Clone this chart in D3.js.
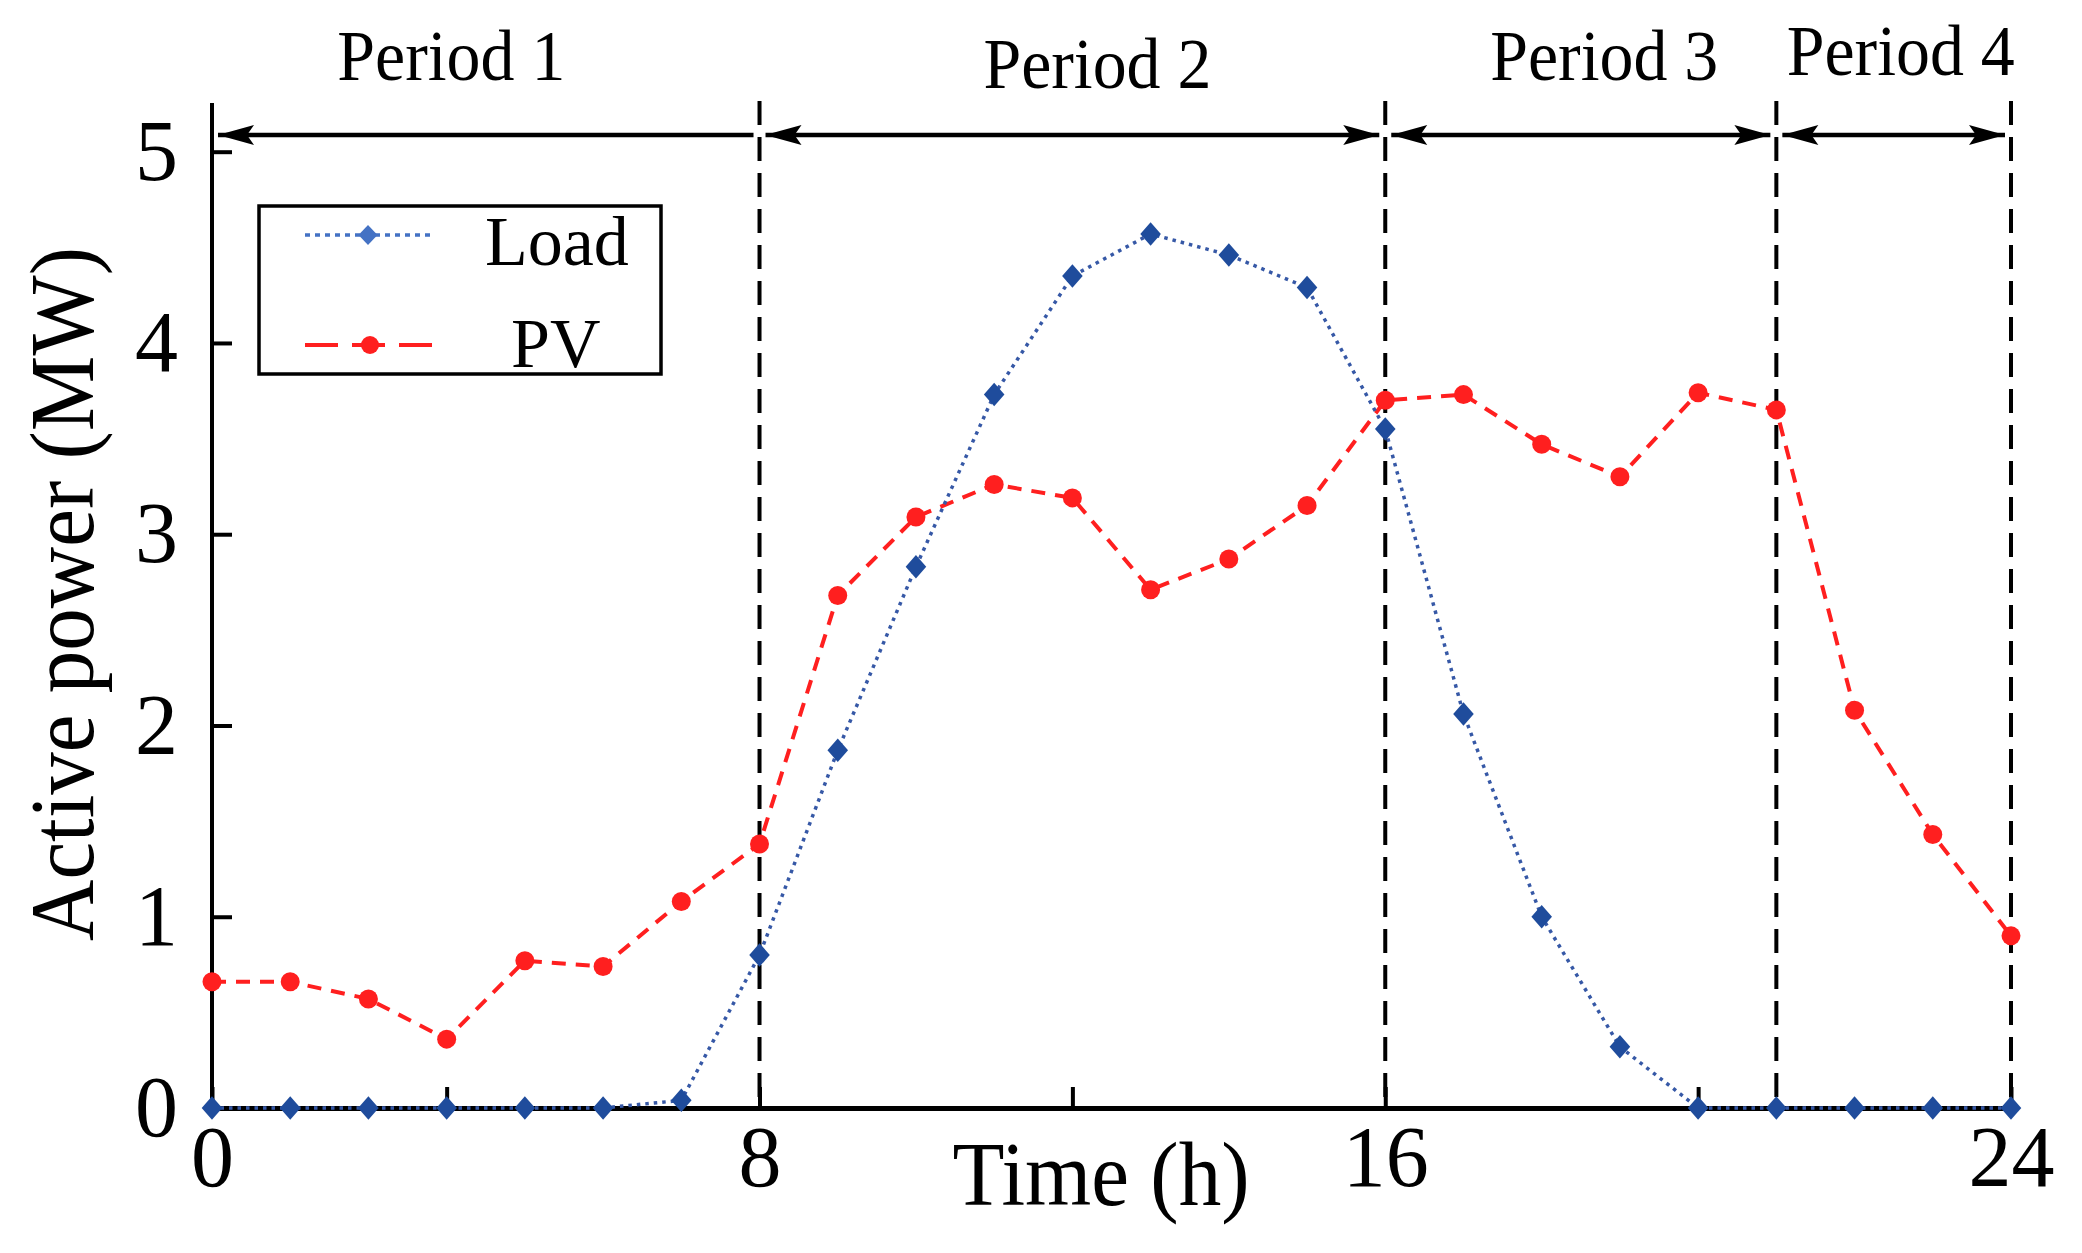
<!DOCTYPE html>
<html>
<head>
<meta charset="utf-8">
<script src="https://cdn.jsdelivr.net/npm/d3@7"></script>
<style>
  body { margin: 0; background: #fff; }
  text { font-family: "Liberation Serif", "Times New Roman", serif; fill: #000; }
</style>
</head>
<body>
<div id="chart"></div>
<script>
// hours 1..24 (the axis labels the first hour as "0")
const hours = d3.range(1, 25);
const loadMW = [0, 0, 0, 0, 0, 0, 0.04, 0.80, 1.87, 2.83, 3.73, 4.35,
  4.57, 4.46, 4.29, 3.55, 2.06, 1.00, 0.32, 0, 0, 0, 0, 0];
const pvMW = [0.66, 0.66, 0.57, 0.36, 0.77, 0.74, 1.08, 1.38, 2.68, 3.09, 3.26, 3.19,
  2.71, 2.87, 3.15, 3.70, 3.73, 3.47, 3.30, 3.74, 3.65, 2.08, 1.43, 0.90];

const xTickVals = [1, 4, 8, 12, 16, 20, 24];
const xTickLabels = ["0", "", "8", "", "16", "", "24"];
const yTickVals = [0, 1, 2, 3, 4, 5];

const periodNames = ["Period 1", "Period 2", "Period 3", "Period 4"];
const periodStart = [1, 8, 16, 21];
const periodEnd = [8, 16, 21, 24];
const seriesNames = ["Load", "PV"];

// layout (not data)
const W = 2082, H = 1253;
const periodLabelHour = [4.06, 12.32, 18.8, 22.59];
const periodLabelY = [80, 88, 80, 75];

const svg = d3.select("#chart").append("svg")
  .attr("width", W).attr("height", H);

const x = d3.scaleLinear().domain([1, 24]).range([212, 2011]);
const y = d3.scaleLinear().domain([0, 5]).range([1108, 151.7]);

const blueLine = "#3658a6", blueMark = "#1f4c9c", red = "#ff1f1f";

// arrow heads
const defs = svg.append("defs");
defs.append("marker").attr("id", "ahEnd")
  .attr("markerUnits", "userSpaceOnUse").attr("markerWidth", 38).attr("markerHeight", 24)
  .attr("refX", 36).attr("refY", 12).attr("orient", "auto")
  .append("path").attr("d", "M0,2 L36,12 L0,22 L7,12 Z").attr("fill", "#000");
defs.append("marker").attr("id", "ahStart")
  .attr("markerUnits", "userSpaceOnUse").attr("markerWidth", 38).attr("markerHeight", 24)
  .attr("refX", 0).attr("refY", 12).attr("orient", "auto")
  .append("path").attr("d", "M36,2 L0,12 L36,22 L29,12 Z").attr("fill", "#000");

// dashed period boundaries
svg.append("g").selectAll("line")
  .data([8, 16, 21, 24])
  .join("line")
  .attr("x1", d => x(d)).attr("x2", d => x(d))
  .attr("y1", 101).attr("y2", y(0))
  .attr("stroke", "#000").attr("stroke-width", 4)
  .attr("stroke-dasharray", "24,12");

// period arrows
const arrowY = 135;
periodNames.forEach((name, i) => {
  const ln = svg.append("line")
    .attr("x1", x(periodStart[i]) + 6).attr("x2", x(periodEnd[i]) - 6)
    .attr("y1", arrowY).attr("y2", arrowY)
    .attr("stroke", "#000").attr("stroke-width", 4.5)
    .attr("marker-start", "url(#ahStart)");
  if (i > 0) ln.attr("marker-end", "url(#ahEnd)");
  svg.append("text")
    .attr("x", x(periodLabelHour[i])).attr("y", periodLabelY[i])
    .attr("text-anchor", "middle")
    .attr("font-size", 72)
    .attr("textLength", 228).attr("lengthAdjust", "spacingAndGlyphs")
    .text(name);
});

// axes
const xAxis = d3.axisBottom(x)
  .tickValues(xTickVals)
  .tickFormat((d, i) => xTickLabels[i])
  .tickSizeInner(-21).tickSizeOuter(0).tickPadding(17);
const gx = svg.append("g")
  .attr("transform", "translate(0," + y(0) + ")")
  .call(xAxis);
gx.select(".domain").attr("stroke-width", 5);
gx.selectAll(".tick line").attr("stroke-width", 4);
gx.selectAll("text").attr("font-size", 86).attr("font-family", "Liberation Serif");

const yAxis = d3.axisLeft(y)
  .tickValues(yTickVals)
  .tickFormat(d3.format("d"))
  .tickSizeInner(-20).tickSizeOuter(0).tickPadding(34);
const gy = svg.append("g")
  .attr("transform", "translate(" + x(1) + ",0)")
  .call(yAxis);
gy.select(".domain").attr("d", "M0," + y(0) + "V103").attr("stroke-width", 4);
gy.selectAll(".tick line").attr("stroke-width", 4);
gy.selectAll("text").attr("font-size", 86).attr("font-family", "Liberation Serif");

// axis titles
svg.append("text")
  .attr("transform", "translate(93,594) rotate(-90)")
  .attr("text-anchor", "middle")
  .attr("font-size", 92)
  .attr("textLength", 694).attr("lengthAdjust", "spacingAndGlyphs")
  .text("Active power (MW)");
svg.append("text")
  .attr("x", 1101).attr("y", 1205)
  .attr("text-anchor", "middle")
  .attr("font-size", 90)
  .attr("textLength", 297).attr("lengthAdjust", "spacingAndGlyphs")
  .text("Time (h)");

// series
const diamond = d3.symbol().type(d3.symbolSquare).size(250);
const line = (vals) => d3.line().x((d, i) => x(hours[i])).y(d => y(d))(vals);

svg.append("path")
  .attr("d", line(pvMW))
  .attr("fill", "none").attr("stroke", red)
  .attr("stroke-width", 4).attr("stroke-dasharray", "14,10");
svg.append("g").selectAll("circle")
  .data(pvMW).join("circle")
  .attr("cx", (d, i) => x(hours[i])).attr("cy", d => y(d))
  .attr("r", 9.5).attr("fill", red);

svg.append("path")
  .attr("d", line(loadMW))
  .attr("fill", "none").attr("stroke", blueLine)
  .attr("stroke-width", 3.5).attr("stroke-dasharray", "3.5,5");
svg.append("g").selectAll("path")
  .data(loadMW).join("path")
  .attr("d", diamond)
  .attr("transform", (d, i) => "translate(" + x(hours[i]) + "," + y(d) + ") scale(0.92,1.05) rotate(45)")
  .attr("fill", blueMark);

// legend
const lg = svg.append("g");
lg.append("rect").attr("x", 259).attr("y", 206).attr("width", 402).attr("height", 168)
  .attr("fill", "#fff").attr("stroke", "#000").attr("stroke-width", 3.5);
lg.append("line").attr("x1", 305).attr("x2", 432).attr("y1", 235).attr("y2", 235)
  .attr("stroke", "#4472c4").attr("stroke-width", 3.5).attr("stroke-dasharray", "5,5");
lg.append("path").attr("d", diamond)
  .attr("transform", "translate(368,235) scale(0.85,0.9) rotate(45)").attr("fill", "#4472c4");
lg.append("line").attr("x1", 305).attr("x2", 432).attr("y1", 345).attr("y2", 345)
  .attr("stroke", red).attr("stroke-width", 4).attr("stroke-dasharray", "33,14");
lg.append("circle").attr("cx", 370).attr("cy", 345).attr("r", 9).attr("fill", red);
lg.append("text").attr("x", 485).attr("y", 265).attr("font-size", 70).text(seriesNames[0]);
lg.append("text").attr("x", 511).attr("y", 367).attr("font-size", 70).text(seriesNames[1]);
</script>
</body>
</html>
